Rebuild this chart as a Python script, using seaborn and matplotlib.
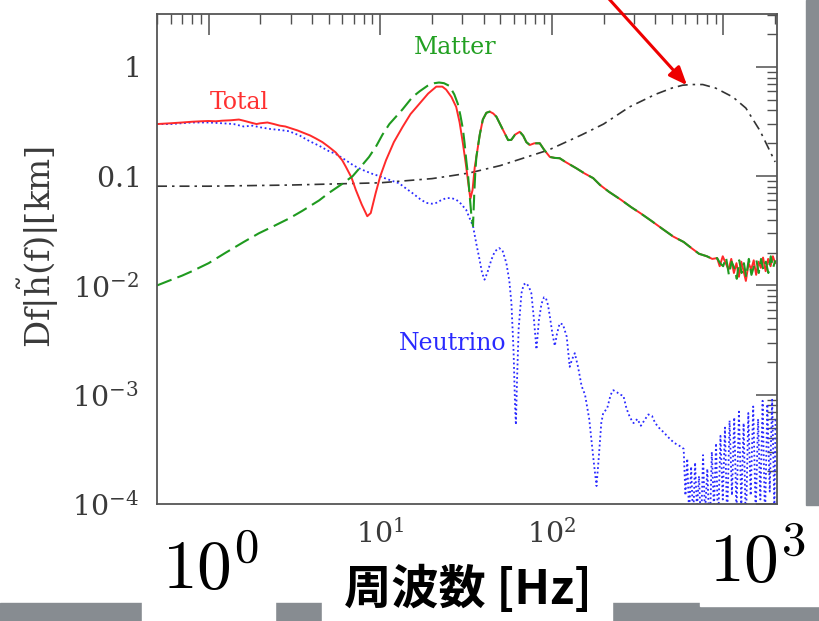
import matplotlib
matplotlib.use("Agg")
import numpy as np
import pandas as pd
import matplotlib.pyplot as plt
from matplotlib.patches import Rectangle
from matplotlib.ticker import FixedLocator, FixedFormatter, NullFormatter
import seaborn as sns

# ---------------- data ----------------
total_f = [0.5, 0.6, 0.7, 0.8, 0.9, 1.0, 1.1, 1.2, 1.35, 1.5, 1.6, 1.75, 1.9, 2.0, 2.2, 2.4,
           2.6, 2.8, 3.0, 3.3, 3.6, 3.9, 4.2, 4.6, 5.0, 5.5, 6.0, 6.3, 6.8, 7.2, 7.8, 8.4,
           8.8, 9.4, 10.0, 10.8, 12.0, 13.5, 15.0, 16.9, 19.0, 21.2, 23.0, 24.2, 26.0, 27.7,
           29.0, 30.3, 31.5, 32.4, 33.5, 34.5, 35.5, 36.3, 38.0, 39.6, 41.5, 43.4, 45.5, 47.5,
           51.0, 55.6, 58.0, 61.0, 65.0, 68.0, 71.0, 74.3, 79.0, 85.0, 90.0, 97.3, 104, 111,
           120, 139, 155, 174, 191, 215, 252, 290, 327, 380, 440, 510, 586, 650, 720, 800,
           860, 918]
total_y = [0.30, 0.305, 0.31, 0.315, 0.318, 0.32, 0.318, 0.322, 0.325, 0.33, 0.322, 0.31, 0.30,
           0.305, 0.31, 0.30, 0.29, 0.285, 0.275, 0.262, 0.248, 0.236, 0.222, 0.205, 0.186,
           0.165, 0.14, 0.122, 0.097, 0.075, 0.055, 0.043, 0.046, 0.070, 0.10, 0.14, 0.205,
           0.283, 0.37, 0.46, 0.57, 0.66, 0.66, 0.62, 0.53, 0.43, 0.31, 0.20, 0.13, 0.092,
           0.062, 0.075, 0.12, 0.15, 0.24, 0.33, 0.38, 0.39, 0.375, 0.35, 0.28, 0.214, 0.215,
           0.24, 0.255, 0.235, 0.205, 0.193, 0.20, 0.20, 0.175, 0.15, 0.147, 0.146, 0.135,
           0.118, 0.106, 0.096, 0.083, 0.072, 0.061, 0.052, 0.046, 0.039, 0.033, 0.028, 0.025,
           0.022, 0.0195, 0.0185, 0.0175, 0.0178]
total_tail_f = [950, 990, 1030, 1070, 1110, 1150, 1190, 1230, 1270, 1310, 1350, 1400, 1450,
                1500, 1550, 1600, 1650, 1700, 1760, 1820, 1880, 1940, 2000]
total_tail_y = [0.0150, 0.0185, 0.0160, 0.0140, 0.0175, 0.0130, 0.0160, 0.0120, 0.0165,
                0.0135, 0.0110, 0.0160, 0.0140, 0.0170, 0.0125, 0.0165, 0.0145, 0.0180,
                0.0135, 0.0175, 0.0150, 0.0185, 0.0160]

matter_low_f = [0.5, 0.6, 0.7, 0.8, 1.0, 1.26, 1.6, 1.96, 2.4, 2.94, 3.5, 4.4, 5.0, 6.0, 6.9,
                7.8, 8.6, 9.5, 10.3, 11.3, 13.5, 15.4, 17.0, 18.8, 20.7, 22.0, 23.5, 25.3,
                27.0, 28.3, 29.3, 30.3, 31.0, 31.7, 32.5, 33.1, 33.9, 34.7, 35.3, 35.8, 36.3]
matter_low_y = [0.0100, 0.0112, 0.0123, 0.0135, 0.0160, 0.020, 0.025, 0.030, 0.035, 0.041,
                0.048, 0.060, 0.070, 0.085, 0.10, 0.125, 0.15, 0.19, 0.24, 0.30, 0.41, 0.53,
                0.60, 0.67, 0.71, 0.72, 0.71, 0.67, 0.56, 0.46, 0.36, 0.27, 0.20, 0.14, 0.10,
                0.07, 0.045, 0.035, 0.07, 0.11, 0.15]
matter_tail_f = [955, 995, 1035, 1075, 1115, 1155, 1195, 1235, 1275, 1315, 1355, 1405, 1455,
                 1505, 1555, 1605, 1655, 1705, 1765, 1825, 1885, 1945, 2005]
matter_tail_y = [0.0160, 0.0150, 0.0180, 0.0125, 0.0165, 0.0145, 0.0115, 0.0170, 0.0130,
                 0.0160, 0.0120, 0.0175, 0.0125, 0.0150, 0.0170, 0.0130, 0.0175, 0.0140,
                 0.0165, 0.0130, 0.0185, 0.0145, 0.0170]

nu_f = [0.5, 0.6, 0.7, 0.8, 1.0, 1.2, 1.4, 1.6, 1.8, 2.0, 2.3, 2.6, 2.94, 3.4, 3.85, 4.4, 5.0,
        5.5, 6.3, 7.0, 7.9, 9.0, 9.9, 11.2, 12.9, 14.0, 15.4, 17.0, 18.5, 20.0, 21.2, 22.5,
        24.2, 26.0, 27.7, 29.5, 31.7, 33.0, 34.7, 36.3, 37.9, 39.2, 40.5, 42.0, 44.4, 46.5,
        49.2, 51.5, 54.3, 56.5, 58.1, 59.8, 61.0, 61.7, 62.5, 64.0, 66.5, 68.5, 71.0, 73.5,
        75.9, 78.5, 81.3, 84.0, 87.0, 90.0, 92.2, 95.0, 97.3, 100.5, 104, 107, 111, 116, 122,
        127, 131, 136, 142, 149, 156, 165, 175, 182, 188, 194, 199, 210, 220, 228, 240, 250,
        261, 272, 285, 299, 315, 330, 350, 365, 383, 400, 420, 450, 490, 520, 555, 586]
nu_y = [0.30, 0.30, 0.305, 0.31, 0.31, 0.305, 0.30, 0.285, 0.29, 0.28, 0.27, 0.265, 0.258,
        0.235, 0.21, 0.19, 0.17, 0.16, 0.14, 0.125, 0.114, 0.105, 0.10, 0.093, 0.086, 0.078,
        0.070, 0.062, 0.057, 0.056, 0.057, 0.060, 0.063, 0.063, 0.061, 0.056, 0.049, 0.042,
        0.035, 0.024, 0.0172, 0.013, 0.0113, 0.013, 0.0172, 0.0205, 0.022, 0.021, 0.016,
        0.011, 0.0069, 0.0025, 0.0008, 0.00053, 0.0012, 0.004, 0.0085, 0.0102, 0.0105,
        0.0097, 0.0085, 0.005, 0.0026, 0.0048, 0.0068, 0.0078, 0.0077, 0.0066, 0.0052,
        0.0037, 0.0028, 0.0036, 0.0045, 0.0044, 0.0034, 0.0018, 0.0021, 0.0024, 0.0018,
        0.0012, 0.0010, 0.0006, 0.00025, 0.000146, 0.00028, 0.00055, 0.00068, 0.00075,
        0.0010, 0.0011, 0.00105, 0.0010, 0.00098, 0.00075, 0.00062, 0.00055, 0.0006,
        0.00052, 0.0006, 0.00066, 0.00064, 0.00055, 0.00050, 0.00045, 0.00039, 0.00036,
        0.00034, 0.00032]
nu_tail_f = [600, 615, 630, 648, 665, 683, 700, 720, 740, 760, 780, 805, 830, 855, 880, 905,
             930, 960, 990, 1020, 1050, 1085, 1120, 1155, 1190, 1230, 1270, 1310, 1350, 1395,
             1440, 1490, 1540, 1590, 1640, 1690, 1745, 1800, 1860, 1920, 1980, 2010]
nu_tail_y = [0.00012, 0.00026, 0.00008, 0.00022, 0.00007, 0.00024, 0.00009, 0.00018, 0.00006,
             0.00028, 0.00008, 0.00021, 0.00005, 0.00030, 0.00009, 0.00036, 0.00006, 0.00042,
             0.00011, 0.00050, 0.00007, 0.00058, 0.00012, 0.00062, 0.00008, 0.00070, 0.00010,
             0.00055, 0.00006, 0.00068, 0.00012, 0.00078, 0.00008, 0.00060, 0.00011, 0.00088,
             0.00007, 0.00082, 0.00013, 0.00090, 0.00009, 0.00060]

sn_f = [0.5, 1.0, 3.0, 10.0, 20.0, 25.0, 33.0, 50.0, 96.0, 150.0, 200.0, 283.0, 400.0,
        500.0, 578.0, 650.0, 757.0, 900.0, 1135.0, 1350.0, 1633.0, 1800.0, 2000.0]
sn_y = [0.081, 0.081, 0.083, 0.087, 0.095, 0.100, 0.107, 0.125, 0.174, 0.24, 0.30, 0.43,
        0.56, 0.64, 0.68, 0.69, 0.69, 0.64, 0.53, 0.42, 0.26, 0.19, 0.135]

y_tick_vals = [1e-4, 1e-3, 1e-2, 1e-1, 1.0]
y_tick_labels = [r'$10^{-4}$', r'$10^{-3}$', r'$10^{-2}$', r'$0.1$', r'$1$']
x_tick_vals = [1, 10, 100, 1000]
# the labels at 1 and 1000 are hidden behind the slide's big labels in the reference
x_tick_labels = ['', r'$10^{1}$', r'$10^{2}$', '']

# ---------------- build series ----------------
total_all_f = total_f + total_tail_f
total_all_y = total_y + total_tail_y
matter_all_f = matter_low_f + [f for f in total_f if 38 <= f < 950] + matter_tail_f
matter_all_y = matter_low_y + [y for f, y in zip(total_f, total_y) if 38 <= f < 950] + matter_tail_y
nu_all_f = nu_f + nu_tail_f
nu_all_y = nu_y + nu_tail_y

# ---------------- style ----------------
sns.set_style("white")
plt.rcParams['font.family'] = ['DejaVu Serif', 'Noto Sans CJK JP']
plt.rcParams['mathtext.fontset'] = 'dejavuserif'

W, H = 819, 621
fig = plt.figure(figsize=(W / 100, H / 100), dpi=100)
fig.patch.set_facecolor('white')
ax = fig.add_axes([157 / W, 1 - 504 / H, (777 - 157) / W, (504 - 14) / H])
ax.set_xscale('log')
ax.set_yscale('log')

sns.lineplot(x=sn_f, y=sn_y, ax=ax, color='#333333', linewidth=1.2,
             estimator=None, sort=False)
ax.lines[-1].set_linestyle((0, (6, 3, 1.5, 3)))
sns.lineplot(x=nu_all_f, y=nu_all_y, ax=ax, color='#2a2aff', linewidth=1.3,
             estimator=None, sort=False)
ax.lines[-1].set_linestyle((0, (1, 1.5)))
sns.lineplot(x=total_all_f, y=total_all_y, ax=ax, color='#ff2a2a', linewidth=1.4,
             estimator=None, sort=False)
sns.lineplot(x=matter_all_f, y=matter_all_y, ax=ax, color='#1f9a1f', linewidth=1.5,
             estimator=None, sort=False)
ax.lines[-1].set_linestyle((0, (7.5, 3.0)))

ax.set_xlim(0.5, 2050)
ax.set_ylim(1e-4, 3.05)

ax.xaxis.set_major_locator(FixedLocator(x_tick_vals))
ax.xaxis.set_major_formatter(FixedFormatter(x_tick_labels))
xminor = [m * 10.0 ** d for d in range(-1, 4) for m in range(2, 10)]
ax.xaxis.set_minor_locator(FixedLocator(xminor))
ax.xaxis.set_minor_formatter(NullFormatter())
ax.yaxis.set_major_locator(FixedLocator(y_tick_vals))
ax.yaxis.set_major_formatter(FixedFormatter(y_tick_labels))
yminor = [m * 10.0 ** d for d in range(-4, 1) for m in range(2, 10)]
ax.yaxis.set_minor_locator(FixedLocator(yminor))
ax.yaxis.set_minor_formatter(NullFormatter())

ax.tick_params(which='major', direction='in', length=15, width=1.1, color='#505050',
               top=True, right=True, labelsize=20.5, labelcolor='#3a3a3a')
ax.tick_params(which='minor', direction='in', length=7.5, width=1.0, color='#505050',
               top=True, right=True)
ax.tick_params(axis='y', which='major', pad=13)
ax.tick_params(axis='x', which='major', pad=11)
for s in ax.spines.values():
    s.set_color('#555555')
    s.set_linewidth(1.3)
ax.set_xlabel('')
ax.set_ylabel('')

# curve labels
ax.text(1.5, 0.476, 'Total', color='#ff3030', fontsize=17, ha='center', va='center')
ax.text(27.5, 1.51, 'Matter', color='#22a022', fontsize=17, ha='center', va='center')
ax.text(26.4, 0.00294, 'Neutrino', color='#2a2aff', fontsize=17, ha='center', va='center')

# y label
fig.text(38 / W, 1 - 247 / H, r'$\mathrm{Df}|\tilde{\mathrm{h}}(\mathrm{f})|[\mathrm{km}]$',
         rotation=90, ha='center', va='center', fontsize=24.5, color='#3a3a3a')

# red arrow
ax.annotate('', xy=(613, 0.68), xytext=(212, 4.3), annotation_clip=False,
            arrowprops=dict(arrowstyle='-|>,head_length=1.1,head_width=0.45',
                            color='#ee0000', lw=2.2, shrinkA=0, shrinkB=0))

# slide overlays
def rect(x0, y0, x1, y1, color):
    fig.patches.append(Rectangle((x0 / W, 1 - y1 / H), (x1 - x0) / W, (y1 - y0) / H,
                                 transform=fig.transFigure, color=color, zorder=5))

rect(0, 603, W, H, '#878c91')
rect(806, 0, W, 505, '#878c91')
rect(142, 523, 275, H, 'white')
rect(322, 548, 612, H, 'white')
rect(700, 520, W, 606, 'white')

fig.text(210 / W, 1 - 570 / H, r'$10^0$', fontsize=50, math_fontfamily='cm',
         ha='center', va='center', color='black', zorder=6)
fig.text(757 / W, 1 - 563 / H, r'$10^3$', fontsize=50, math_fontfamily='cm',
         ha='center', va='center', color='black', zorder=6)
fig.text(468 / W, 1 - 590 / H, '周波数 [Hz]', fontsize=34, fontweight='bold',
         family=['Noto Sans CJK JP', 'DejaVu Sans'], ha='center', va='center',
         color='black', zorder=6)

fig.savefig('out.png', dpi=100, facecolor='white')
